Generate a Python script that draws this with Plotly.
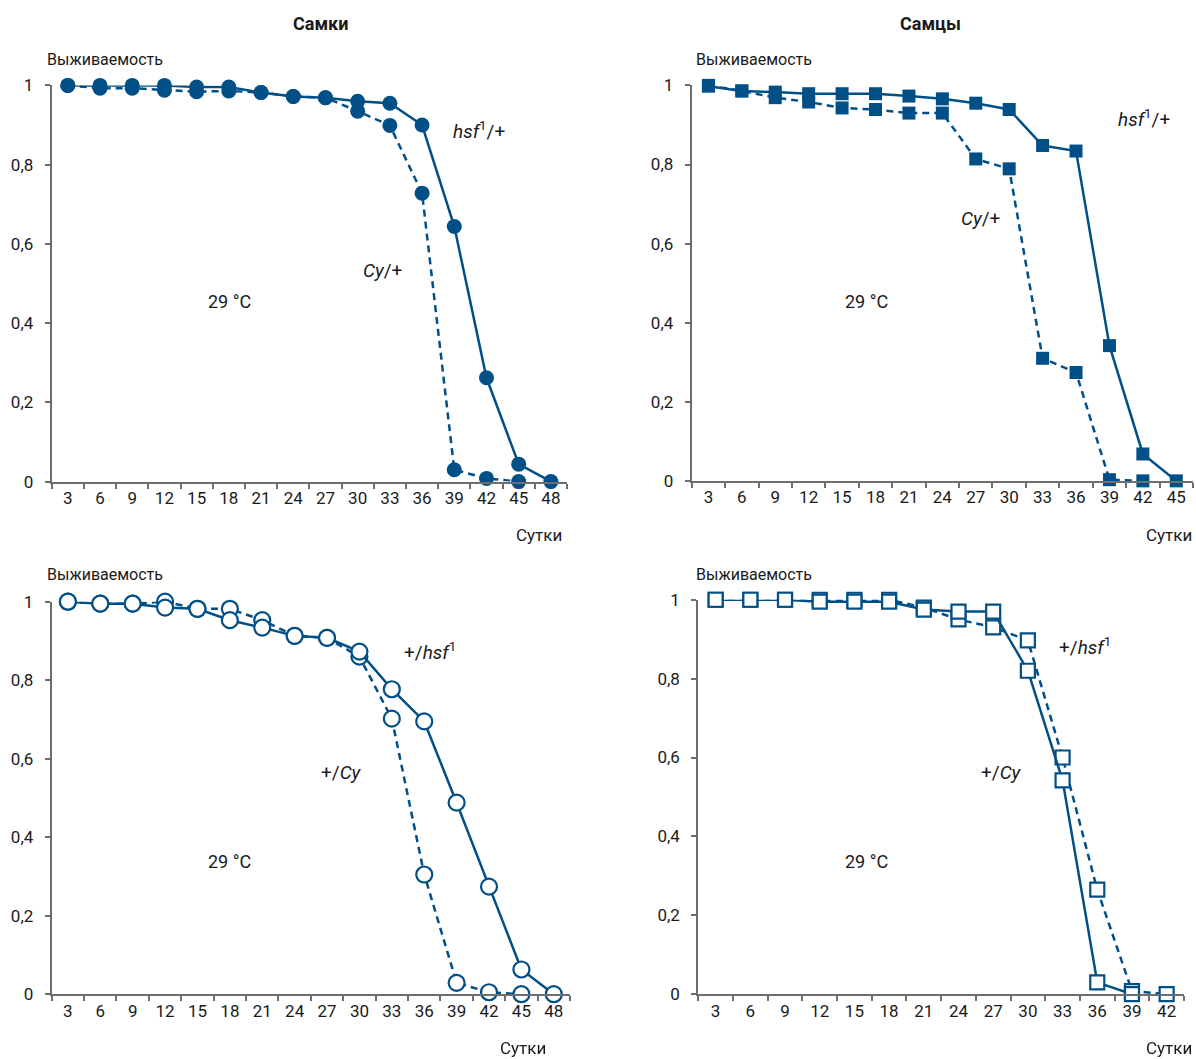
import plotly.graph_objects as go

# ---------------- data ----------------
days_f = [3, 6, 9, 12, 15, 18, 21, 24, 27, 30, 33, 36, 39, 42, 45, 48]
f_hsf = [1.0, 1.0, 1.0, 1.0, 0.996, 0.996, 0.982, 0.972, 0.969, 0.960, 0.955, 0.900, 0.644, 0.262, 0.044, 0.0]
f_cy = [1.0, 0.993, 0.993, 0.988, 0.984, 0.986, 0.982, 0.972, 0.969, 0.935, 0.899, 0.728, 0.030, 0.008, 0.0]

days_m = [3, 6, 9, 12, 15, 18, 21, 24, 27, 30, 33, 36, 39, 42, 45]
m_hsf = [0.998, 0.986, 0.983, 0.979, 0.979, 0.979, 0.973, 0.966, 0.955, 0.939, 0.848, 0.834, 0.342, 0.068, 0.0]
m_cy = [1.0, 0.986, 0.969, 0.958, 0.943, 0.939, 0.930, 0.930, 0.814, 0.789, 0.310, 0.274, 0.003, 0.0]

days_bf = [3, 6, 9, 12, 15, 18, 21, 24, 27, 30, 33, 36, 39, 42, 45, 48]
bf_hsf = [1.0, 0.995, 0.995, 0.985, 0.982, 0.953, 0.934, 0.913, 0.908, 0.873, 0.777, 0.695, 0.488, 0.274, 0.063, 0.0]
bf_cy = [1.0, 0.995, 0.995, 1.0, 0.982, 0.982, 0.953, 0.913, 0.908, 0.860, 0.702, 0.305, 0.029, 0.005, 0.0]

days_bm = [3, 6, 9, 12, 15, 18, 21, 24, 27, 30, 33, 36, 39, 42]
bm_hsf = [1.0, 1.0, 1.0, 0.995, 0.995, 0.995, 0.975, 0.970, 0.970, 0.820, 0.542, 0.030, 0.0]
bm_cy = [1.0, 1.0, 1.0, 1.0, 1.0, 1.0, 0.980, 0.950, 0.930, 0.897, 0.600, 0.265, 0.008, 0.0]

y_ticks = [0, 0.2, 0.4, 0.6, 0.8, 1]
y_ticktext = ["0", "0,2", "0,4", "0,6", "0,8", "1"]

# ---------------- style ----------------
W, H = 1196, 1059
BLUE = "#004f87"
AXIS = "#6e6e6e"
FONT = "Roboto, Liberation Sans, sans-serif"
TXT = "#1a1a1a"

# the captured page shows the figure slightly compressed vertically;
# map target picture rows onto figure rows
Y_OFF, Y_SCALE = 9.5, 0.9824


def px(x):
    return x / W


def py(y):
    yf = (y - Y_OFF) / Y_SCALE
    return 1 - yf / H


def pyc(y):
    return min(1.0, max(0.0, py(y)))


panels = [
    # (axis id, x domain px, y domain px (top,bottom), days, solid, dashed, symbol, filled)
    ("", (51.7, 567.0), (85, 481.7), days_f, f_hsf, f_cy, "circle", True),
    ("2", (691.7, 1193.0), (85, 481.0), days_m, m_hsf, m_cy, "square", True),
    ("3", (51.7, 570.0), (602, 995), days_bf, bf_hsf, bf_cy, "circle", False),
    ("4", (698.3, 1184.0), (600, 995), days_bm, bm_hsf, bm_cy, "square", False),
]

fig = go.Figure()
layout = dict(
    width=W, height=H,
    margin=dict(l=0, r=0, t=0, b=0),
    paper_bgcolor="white", plot_bgcolor="white",
    showlegend=False,
    font=dict(family=FONT, size=17, color=TXT),
)

for aid, (x0, x1), (ytop, ybot), days, solid, dashed, sym, filled in panels:
    xa = "x" + aid
    ya = "y" + aid
    msize = 15 if sym == "circle" else 13
    if filled:
        mk = dict(symbol=sym, size=msize, color=BLUE, line=dict(width=0))
    else:
        mk = dict(symbol=sym, size=msize + 1, color="white", line=dict(width=2.2, color=BLUE))
    n_d = len(dashed)
    n_s = len(solid)
    fig.add_trace(go.Scatter(
        x=days[:n_d], y=dashed, mode="lines+markers", xaxis=xa, yaxis=ya,
        line=dict(color=BLUE, width=2.5, dash="7px,5px"), marker=mk, cliponaxis=False))
    fig.add_trace(go.Scatter(
        x=days[:n_s], y=solid, mode="lines+markers", xaxis=xa, yaxis=ya,
        line=dict(color=BLUE, width=2.5), marker=mk, cliponaxis=False))

    xkey = "xaxis" + aid
    ykey = "yaxis" + aid
    step = days[1] - days[0]
    layout[xkey] = dict(
        domain=[px(x0), px(x1)], anchor=ya,
        range=[days[0] - step / 2, days[-1] + step / 2],
        tickmode="array", tickvals=days, ticktext=[str(d) for d in days],
        ticks="", showgrid=False, zeroline=False,
        showline=True, linecolor=AXIS, linewidth=2,
        tickfont=dict(size=17, color=TXT), ticklabelstandoff=0,
        minor=dict(tick0=days[0] - step / 2, dtick=step, ticks="outside",
                   ticklen=5, tickwidth=1.5, tickcolor=AXIS, showgrid=False),
    )
    layout[ykey] = dict(
        domain=[pyc(ybot), pyc(ytop)], anchor=xa,
        range=[0, 1],
        tickmode="array", tickvals=y_ticks, ticktext=y_ticktext,
        ticks="outside", ticklen=5, tickwidth=1.5, tickcolor=AXIS,
        showgrid=False, zeroline=False,
        showline=True, linecolor=AXIS, linewidth=2,
        tickfont=dict(size=17, color=TXT), ticklabelstandoff=8,
    )

fig.update_layout(**layout)

ann = []


def add_text(x, y, text, size=17, xanchor="center", yanchor="middle"):
    ann.append(dict(x=px(x), y=py(y), xref="paper", yref="paper", text=text,
                    showarrow=False, xanchor=xanchor, yanchor=yanchor,
                    font=dict(size=size, color=TXT, family=FONT)))


SUP1 = "<sup>1</sup>"

# titles
add_text(320, 23, "<b>Самки</b>", size=18)
add_text(930, 23, "<b>Самцы</b>", size=18)

# y axis titles
for (x, y) in [(45, 59), (694, 59), (45, 575), (694, 575)]:
    add_text(x, y, "Выживаемость", size=16, xanchor="left")

# x axis titles
for (x, y) in [(564, 535), (1194, 535), (548, 1049), (1194, 1049)]:
    add_text(x, y, "Сутки", size=17, xanchor="right")

# temperature
for (x, y) in [(229, 301), (866, 301), (229, 862), (866, 862)]:
    add_text(x, y, "29 °C", size=18)

# genotypes
add_text(451, 130, "<i>hsf</i>" + SUP1 + "/+", size=19, xanchor="left")
add_text(361, 270, "<i>Cy</i>/+", size=19, xanchor="left")
add_text(1116, 118, "<i>hsf</i>" + SUP1 + "/+", size=19, xanchor="left")
add_text(959, 218, "<i>Cy</i>/+", size=19, xanchor="left")
add_text(402, 652, "+/<i>hsf</i>" + SUP1, size=19, xanchor="left")
add_text(319, 773, "+/<i>Cy</i>", size=19, xanchor="left")
add_text(1057, 647, "+/<i>hsf</i>" + SUP1, size=19, xanchor="left")
add_text(979, 773, "+/<i>Cy</i>", size=19, xanchor="left")

fig.update_layout(annotations=ann)
fig.write_html(
    "out.html",
    config={"displayModeBar": False},
    post_script=(
        "document.body.style.margin='0';document.body.style.padding='0';"
        "document.documentElement.style.overflow='hidden';"
        "var gd=document.getElementById('{plot_id}');"
        "gd.style.position='fixed';gd.style.top='0px';gd.style.left='0px';"
        "gd.querySelectorAll('svg').forEach(function(s){s.style.overflow='visible';});"
        "var sc=gd.querySelector('.svg-container');if(sc){sc.style.overflow='visible';}"
    ),
)
